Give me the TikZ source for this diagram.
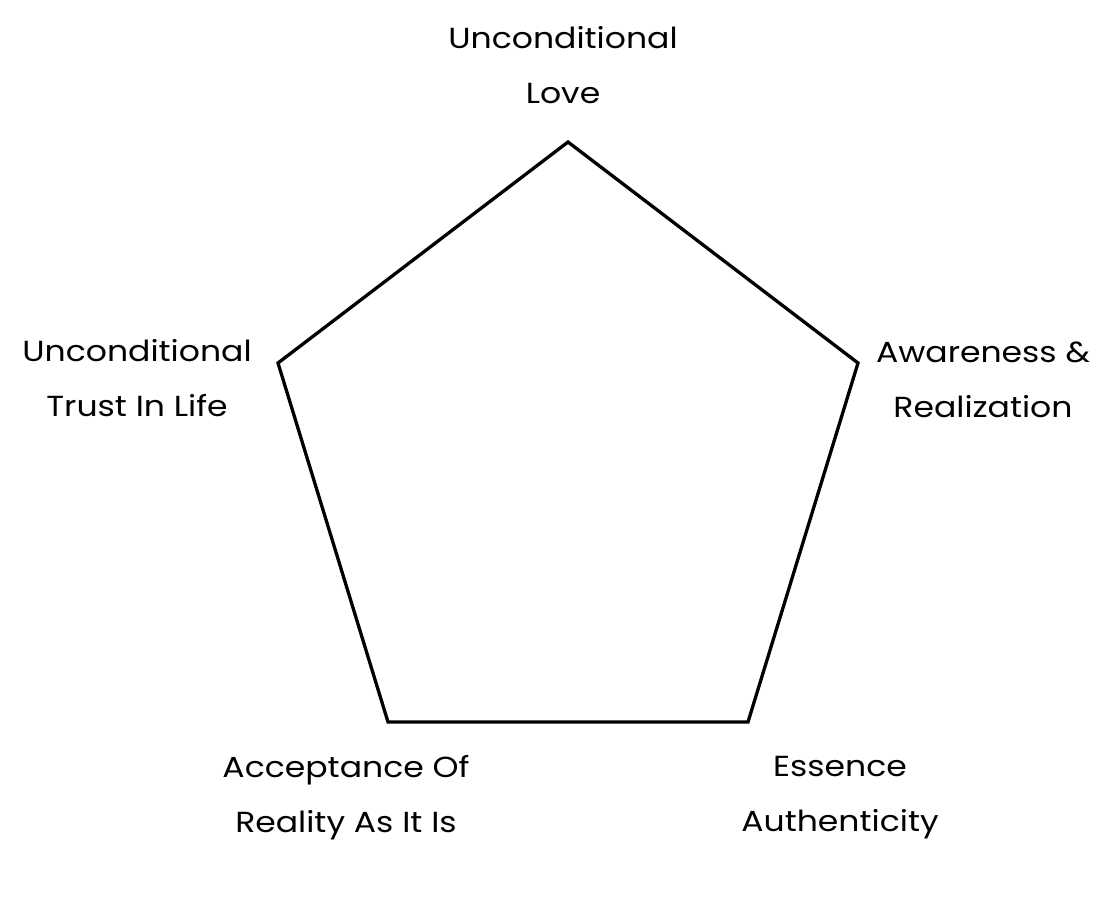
\documentclass[tikz,border=0pt]{standalone}
\usepackage{fontspec}
\setmainfont{Poppins}[FakeStretch=1.14]
\tikzstyle{pentaside}=[line width=3.3pt, line join=miter]
\tikzstyle{valuelabel}=[
    align=center,
    inner sep=0pt,
    font=\fontsize{29}{55}\selectfont,
]

\begin{document}
\begin{tikzpicture}[x=1pt, y=-1pt]
        \useasboundingbox (0,0) rectangle (1100,903);
        \coordinate (love) at (568,142);
        \coordinate (aware) at (858,363);
        \coordinate (essence) at (748,722);
        \coordinate (accept) at (388,722);
        \coordinate (trust) at (278,363);
        \draw[pentaside] (love) -- (aware) -- (essence) -- (accept) -- (trust) -- cycle;
        \node[valuelabel] (lovetext) at (563, 65) {Unconditional\\Love};
        \node[valuelabel] (trusttext) at (137, 378) {Unconditional\\Trust In Life};
        \node[valuelabel] (awaretext) at (983, 380) {Awareness \&\\Realization};
        \node[valuelabel] (accepttext) at (346, 798) {Acceptance Of\\Reality As It Is};
        \node[valuelabel] (essencetext) at (840, 798) {Essence\\Authenticity};
    \end{tikzpicture}
\end{document}
